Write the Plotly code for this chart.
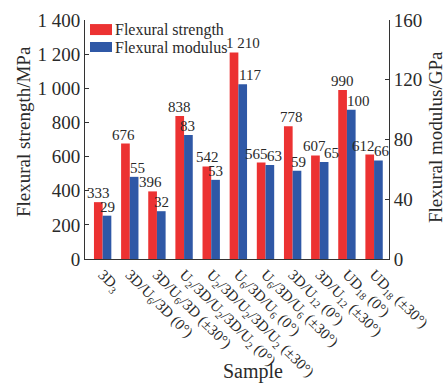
import plotly.graph_objects as go

# Sample layups (subscripts give ply counts)
samples = [
    "3D<sub>3</sub>",
    "3D/U<sub>6</sub>/3D (0°)",
    "3D/U<sub>6</sub>/3D (±30°)",
    "U<sub>2</sub>/3D/U<sub>2</sub>/3D/U<sub>2</sub> (0°)",
    "U<sub>2</sub>/3D/U<sub>2</sub>/3D/U<sub>2</sub> (±30°)",
    "U<sub>6</sub>/3D/U<sub>6</sub> (0°)",
    "U<sub>6</sub>/3D/U<sub>6</sub> (±30°)",
    "3D/U<sub>12</sub> (0°)",
    "3D/U<sub>12</sub> (±30°)",
    "UD<sub>18</sub> (0°)",
    "UD<sub>18</sub> (±30°)",
]
flexural_strength = [333, 676, 396, 838, 542, 1210, 565, 778, 607, 990, 612]  # MPa
flexural_modulus = [29, 55, 32, 83, 53, 117, 63, 59, 65, 100, 66]  # GPa

# small horizontal nudges (px) so neighbouring value labels don't collide
strength_nudge = [0, -2, -2, 0, 1, 9, -5, 3, -1, 0, -6]
modulus_nudge = [1, 3, 0, -1, 0, 7, 5, 2, 7, 7, 4]

RED = "#EC3232"
BLUE = "#2F58A6"
FONT = "Liberation Serif"
INK = "#2a2a2a"

PLOT_W = 446 - 85 - 57
X_RANGE = [-0.65, 10.55]
BARGAP = 0.36
pitch = PLOT_W / (X_RANGE[1] - X_RANGE[0])
half_bar = pitch * (1 - BARGAP) / 4  # offset of each bar centre from the category centre


def fmt(v):
    return f"{v:,}".replace(",", " ")


fig = go.Figure()
fig.add_trace(go.Bar(
    x=samples, y=flexural_strength, name="Flexural strength",
    marker=dict(color=RED, line=dict(width=0)),
    offsetgroup="s", yaxis="y", showlegend=False,
))
fig.add_trace(go.Bar(
    x=samples, y=flexural_modulus, name="Flexural modulus",
    marker=dict(color=BLUE, line=dict(width=0)),
    offsetgroup="m", yaxis="y2", showlegend=False,
))

annotations = []
# value labels above each bar
for cat, v, dx in zip(samples, flexural_strength, strength_nudge):
    annotations.append(dict(x=cat, y=v, xref="x", yref="y", text=fmt(v),
                            showarrow=False, xanchor="center", yanchor="bottom",
                            xshift=-half_bar + dx, yshift=-1,
                            font=dict(family=FONT, size=15, color=INK)))
for cat, v, dx in zip(samples, flexural_modulus, modulus_nudge):
    annotations.append(dict(x=cat, y=v, xref="x", yref="y2", text=fmt(v),
                            showarrow=False, xanchor="center", yanchor="bottom",
                            xshift=half_bar + dx, yshift=-1,
                            font=dict(family=FONT, size=15, color=INK)))

axis_common = dict(showgrid=False, zeroline=False, showline=True,
                   linecolor="#333", linewidth=1, ticks="inside",
                   ticklen=4, tickcolor="#333",
                   tickfont=dict(family=FONT, size=19, color=INK))

# Hand-drawn legend swatches and labels
legend_items = [("Flexural strength", RED, 0.937, 0.983, 0.960),
                ("Flexural modulus", BLUE, 0.866, 0.908, 0.887)]
shapes = []
for label, col, y0, y1, yc in legend_items:
    shapes.append(dict(type="rect", xref="paper", yref="paper",
                       x0=0.0164, x1=0.0888, y0=y0, y1=y1,
                       fillcolor=col, line=dict(width=0)))
    annotations.append(dict(text=label, xref="paper", yref="paper",
                            x=0.092, y=yc, xanchor="left", yanchor="middle",
                            showarrow=False,
                            font=dict(family=FONT, size=16, color=INK)))

# Axis titles
annotations += [
    dict(text="Flexural strength/MPa", xref="paper", yref="paper",
         x=-0.204, y=0.535, textangle=-90, showarrow=False,
         xanchor="center", yanchor="middle",
         font=dict(family=FONT, size=19, color=INK)),
    dict(text="Flexural modulus/GPa", xref="paper", yref="paper",
         x=1.151, y=0.51, textangle=-90, showarrow=False,
         xanchor="center", yanchor="middle",
         font=dict(family=FONT, size=19, color=INK)),
    dict(text="Sample", xref="paper", yref="paper",
         x=0.553, y=-0.472, showarrow=False,
         xanchor="center", yanchor="middle",
         font=dict(family=FONT, size=20, color=INK)),
]

fig.update_layout(
    width=446, height=384,
    margin=dict(l=85, r=57, t=20, b=125, autoexpand=False),
    paper_bgcolor="white", plot_bgcolor="white",
    barmode="group", bargap=BARGAP, bargroupgap=0,
    separators=". ",
    font=dict(family=FONT, color=INK),
    xaxis=dict(type="category", range=X_RANGE, showgrid=False,
               showline=True, linecolor="#333", linewidth=1, ticks="",
               tickangle=45, automargin=False,
               tickfont=dict(family=FONT, size=15, color=INK)),
    yaxis=dict(range=[0, 1400], dtick=200, separatethousands=True,
               automargin=False, **axis_common),
    yaxis2=dict(range=[0, 160], dtick=40, overlaying="y", side="right",
                automargin=False, **axis_common),
    shapes=shapes, annotations=annotations,
)

fig.write_html("out.html")
